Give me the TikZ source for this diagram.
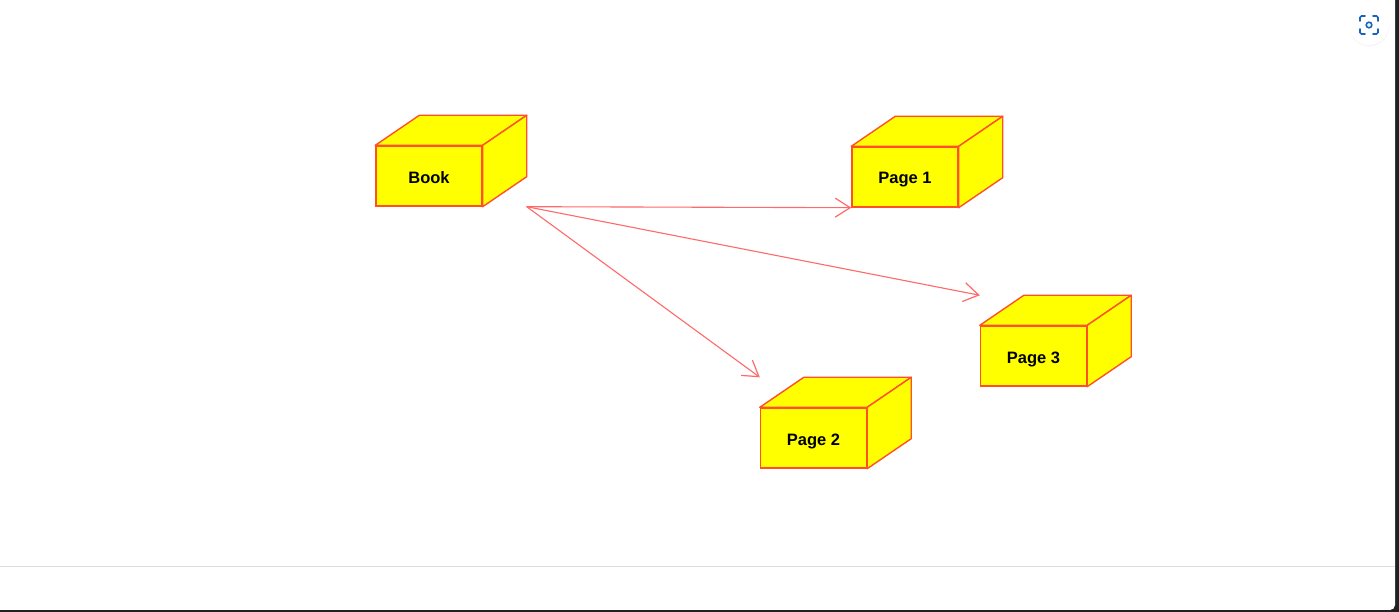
\documentclass[tikz,border=0pt]{standalone}
\usepackage{fontspec}
\setmainfont{Liberation Sans}
\usetikzlibrary{arrows.meta,calc,shadows}
\definecolor{boxfill}{RGB}{255,255,0}
\definecolor{boxedge}{RGB}{255,80,40}
\definecolor{linkred}{RGB}{255,105,105}
\definecolor{frame}{RGB}{32,33,36}
\definecolor{rule}{RGB}{218,220,224}
\definecolor{iconblue}{RGB}{21,101,192}
\tikzset{
  x=1pt, y=1pt,
  cubefront/.style={draw=boxedge, fill=boxfill, line width=1.4pt,
    minimum width=106pt, minimum height=60pt, inner sep=0pt,
    font=\bfseries\fontsize{16.5}{18}\selectfont, text=black},
  cubelabel/.style={font=\bfseries\fontsize{16.5}{18}\selectfont, text=black},
  cubeface/.style={draw=boxedge, fill=boxfill, line width=1.4pt, line join=round},
  link/.style={draw=linkred, line width=1.1pt,
    -{Straight Barb[length=15pt,width=19pt,line width=1.2pt]}},
}
% depth offset of the cube's back faces
\newcommand{\cubedx}{44}
\newcommand{\cubedy}{30}
\newcommand{\cubesides}[1]{%
  \draw[cubeface] (#1.north west) -- ++(\cubedx,\cubedy) -- ($(#1.north east)+(\cubedx,\cubedy)$) -- (#1.north east) -- cycle;
  \draw[cubeface] (#1.north east) -- ++(\cubedx,\cubedy) -- ($(#1.south east)+(\cubedx,\cubedy)$) -- (#1.south east) -- cycle;
}
\begin{document}
\begin{tikzpicture}
\useasboundingbox (0,0) rectangle (1399,612);
% window frame
\fill[frame] (0,0) rectangle (1399,612);
\fill[white, rounded corners=5pt] (-10,2) rectangle (1395,622);
\draw[rule, line width=1pt] (0,45) -- (1395,45);
% capture icon
\node[circle, fill=white, minimum size=40pt, inner sep=0pt,
      circular drop shadow={opacity=0.12, shadow xshift=0pt, shadow yshift=-1pt, shadow scale=1.04}] (icon) at (1369,587) {};
\begin{scope}[shift={(icon.center)}, line width=1.6pt, line cap=round, rounded corners=1.5pt]
  \draw[iconblue] (-9,4) -- (-9,9) -- (-4,9);
  \draw[iconblue] (4,9) -- (9,9) -- (9,4);
  \draw[iconblue] (9,-4) -- (9,-9) -- (4,-9);
  \draw[iconblue] (-4,-9) -- (-9,-9) -- (-9,-4);
  \draw[iconblue] (0,0) circle (2.8pt);
\end{scope}
% cubes: front face node, then top and side faces, then the label
\node[cubefront] (book)  at (429,436)    {};
\cubesides{book}
\node[cubelabel] (booklabel) at ($(book.center)+(0,-2)$) {Book};
\node[cubefront] (page1) at (905,435)    {};
\cubesides{page1}
\node[cubelabel] (page1label) at ($(page1.center)+(0,-3)$) {Page 1};
\node[cubefront] (page3) at (1033.5,256) {};
\cubesides{page3}
\node[cubelabel] (page3label) at ($(page3.center)+(0,-3)$) {Page 3};
\node[cubefront] (page2) at (813.5,174)  {};
\cubesides{page2}
\node[cubelabel] (page2label) at ($(page2.center)+(0,-3)$) {Page 2};
% connector end points at the cubes' outer corners
\coordinate (bookout) at ($(book.south east)+(\cubedx,0)$);
\coordinate (p1in) at (page1.south west);
\coordinate (p3in) at ($(page3.north west)+(0,\cubedy)$);
\coordinate (p2in) at ($(page2.north west)+(0,\cubedy)$);
\draw[link] (bookout) -- (p1in);
\draw[link] (bookout) -- (p3in);
\draw[link] (bookout) -- (p2in);
\end{tikzpicture}
\end{document}
